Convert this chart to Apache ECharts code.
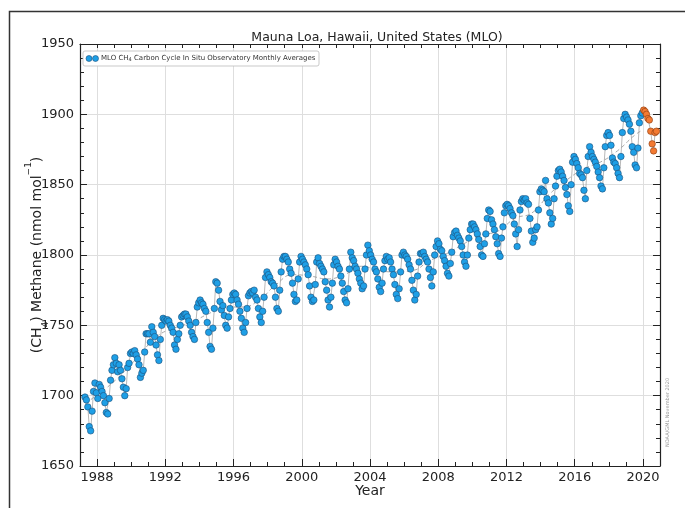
<!DOCTYPE html>
<html>
<head>
<meta charset="utf-8">
<script src="https://cdn.jsdelivr.net/npm/echarts@6/dist/echarts.min.js"></script>
<style>
html,body{margin:0;padding:0;background:#fff;}
#chart{width:685px;height:508px;}
</style>
</head>
<body>
<div id="chart"></div>
<script>
// ---- Data ----
const firstYear = 1987;
const firstMonth = 4; // April 1987
// MLO CH4 in situ monthly averages, Apr 1987 .. Dec 2019 (blue)
const blueValues = [
  1699,1697,1692,1678,1675,1689,1703,1709,1702,               // 1987 Apr-Dec
  1698,1708,1706,1703,1700,1695,1688,1687,1698,1711,1718,1722, // 1988
  1727,1723,1717,1722,1718,1712,1706,1700,1705,1720,1723,1730, // 1989
  1731,1730,1732,1729,1726,1722,1713,1716,1718,1731,1744,1744, // 1990
  1744,1738,1749,1745,1742,1736,1729,1725,1740,1750,1755,1754, // 1991
  1753,1754,1753,1750,1748,1745,1736,1733,1740,1744,1750,1756, // 1992
  1757,1758,1758,1756,1753,1750,1745,1742,1740,1752,1763,1766, // 1993
  1768,1766,1765,1762,1760,1752,1745,1735,1733,1748,1762,1781, // 1994
  1780,1775,1767,1761,1764,1757,1750,1748,1756,1762,1768,1772, // 1995
  1773,1772,1768,1765,1760,1755,1748,1745,1752,1762,1771,1773, // 1996
  1774,1773,1775,1770,1768,1762,1756,1752,1760,1770,1784,1788, // 1997
  1786,1784,1781,1780,1778,1770,1762,1760,1775,1788,1797,1799, // 1998
  1799,1797,1795,1790,1787,1780,1772,1767,1768,1783,1795,1799, // 1999
  1797,1795,1793,1790,1786,1778,1770,1767,1768,1779,1795,1798, // 2000
  1794,1792,1790,1788,1781,1775,1768,1763,1770,1780,1793,1797, // 2001
  1795,1792,1790,1785,1780,1774,1768,1766,1776,1790,1802,1798, // 2002
  1796,1792,1790,1787,1783,1780,1776,1778,1790,1800,1807,1803, // 2003
  1800,1797,1795,1790,1788,1783,1777,1774,1780,1790,1796,1799, // 2004
  1797,1798,1795,1790,1786,1779,1772,1769,1776,1788,1800,1802, // 2005
  1800,1799,1797,1793,1790,1782,1775,1768,1772,1785,1795,1801, // 2006
  1801,1802,1799,1797,1795,1790,1784,1778,1788,1800,1806,1810, // 2007
  1808,1804,1803,1799,1796,1792,1787,1785,1794,1802,1813,1816, // 2008
  1817,1814,1812,1810,1806,1800,1795,1792,1800,1812,1818,1822, // 2009
  1822,1820,1818,1815,1811,1806,1800,1799,1808,1815,1826,1832, // 2010
  1831,1825,1822,1818,1813,1808,1801,1799,1812,1820,1830,1835, // 2011
  1836,1835,1833,1830,1828,1822,1815,1806,1818,1832,1838,1840, // 2012
  1839,1840,1837,1836,1826,1817,1809,1812,1818,1820,1832,1845, // 2013
  1847,1846,1845,1853,1840,1837,1830,1822,1826,1840,1849,1856, // 2014
  1860,1861,1859,1856,1853,1848,1843,1835,1831,1850,1866,1870, // 2015
  1868,1865,1862,1858,1857,1855,1846,1840,1860,1870,1877,1873, // 2016
  1870,1868,1866,1863,1859,1855,1849,1847,1862,1877,1885,1887, // 2017
  1885,1878,1869,1866,1865,1862,1858,1855,1870,1887,1897,1900, // 2018
  1898,1896,1893,1888,1877,1873,1864,1862,1876,1894,1899,1901  // 2019
];
// Preliminary 2020 monthly values (orange), Jan .. Oct 2020
const orangeStartYear = 2020;
const orangeValues = [1903,1902,1900,1897,1896,1888,1879,1874,1887,1888];
// Smoothed trend (grey dashed)
const trendYears  = [1987.3,1987.5,1988.5,1989.5,1990.5,1991.5,1992.5,1993.5,1994.5,1995.5,1996.5,1997.5,1998.5,1999.5,2000.5,2001.5,2002.5,2003.5,2004.5,2005.5,2006.5,2007.5,2008.5,2009.5,2010.5,2011.5,2012.5,2013.5,2014.5,2015.5,2016.5,2017.5,2018.5,2019.5,2020.0];
const trendValues = [1694,1696,1705,1716,1729,1742,1748,1752,1758,1763,1763,1768,1779,1786,1785,1783,1786,1792,1789,1788,1789,1796,1801,1808,1814,1817,1826,1830,1843,1853,1861,1866,1874,1885,1889];
// Axis ticks
const xTickYears = [1988,1992,1996,2000,2004,2008,2012,2016,2020];
const xMinorYears = [];
for (let y = 1987; y <= 2021; y++) xMinorYears.push(y);

// ---- Build series data ----
const blueData = blueValues.map((v, i) => {
  const m = firstMonth - 1 + i;
  const t = firstYear + Math.floor(m / 12) + ((m % 12) + 0.5) / 12;
  return [t, v];
});
const orangeData = orangeValues.map((v, i) => [orangeStartYear + (i + 0.5) / 12, v]);
const trendData = trendYears.map((t, i) => [t, trendValues[i]]);

const chart = echarts.init(document.getElementById('chart'), null, {renderer: 'canvas'});
const FONT = 'DejaVu Sans';
const gridColor = '#dedede';
const axisColor = '#222';
const plain = v => String(Math.round(v));

const option = {
  animation: false,
  backgroundColor: '#fff',
  textStyle: {fontFamily: FONT},
  title: {
    text: 'Mauna Loa, Hawaii, United States (MLO)',
    left: 372, top: 26, textAlign: 'center',
    textStyle: {fontFamily: FONT, fontSize: 12.5, fontWeight: 'normal', color: '#222'}
  },
  grid: {left: 80, top: 44, width: 580, height: 422, containLabel: false, outerBoundsMode: 'none'},
  xAxis: [{
    type: 'value', min: 1987, max: 2021, position: 'bottom',
    name: 'Year', nameLocation: 'middle', nameGap: 18, nameMoveOverlap: false,
    nameTextStyle: {fontFamily: FONT, fontSize: 14, color: '#222', verticalAlign: 'top'},
    axisLine: {show: true, lineStyle: {color: axisColor, width: 1.2}},
    axisTick: {show: true, inside: true, length: 4, customValues: xMinorYears, lineStyle: {color: axisColor}},
    axisLabel: {customValues: xTickYears, fontSize: 13, color: '#222', margin: 5, fontFamily: FONT, formatter: plain},
    splitLine: {show: false}
  }, {
    type: 'value', min: 1987, max: 2021, position: 'top',
    axisLine: {show: true, lineStyle: {color: axisColor, width: 1.2}},
    axisTick: {show: true, inside: true, length: 4, customValues: xMinorYears, lineStyle: {color: axisColor}},
    axisLabel: {show: false},
    splitLine: {show: false}
  }, {
    type: 'value', min: 1987, max: 2021, position: 'bottom', show: true,
    axisLine: {show: false},
    axisTick: {show: true, inside: true, length: 7, customValues: xTickYears, lineStyle: {color: axisColor}},
    axisLabel: {show: false},
    splitLine: {show: false}
  }],
  yAxis: [{
    type: 'value', min: 1650, max: 1950, interval: 50, position: 'left',
    name: '(CH{s|4}) Methane (nmol mol{p|−1})', nameLocation: 'middle', nameGap: 36, nameRotate: 90,
    nameMoveOverlap: false,
    nameTextStyle: {fontFamily: FONT, fontSize: 14, color: '#222',
      rich: {s: {fontSize: 9, verticalAlign: 'bottom', fontFamily: FONT, color: '#222', padding: [0,0,-6,0]},
             p: {fontSize: 9, verticalAlign: 'top', fontFamily: FONT, color: '#222', padding: [-6,0,0,0]}}},
    axisLine: {show: true, lineStyle: {color: axisColor, width: 1.2}},
    axisTick: {show: true, inside: true, length: 7, lineStyle: {color: axisColor}},
    minorTick: {show: true, splitNumber: 5, length: 4, lineStyle: {color: axisColor}},
    axisLabel: {fontSize: 13, color: '#222', margin: 6, fontFamily: FONT, formatter: plain},
    splitLine: {show: true, lineStyle: {color: gridColor, width: 1}}
  }, {
    type: 'value', min: 1650, max: 1950, interval: 50, position: 'right',
    axisLine: {show: true, lineStyle: {color: axisColor, width: 1.2}},
    axisTick: {show: true, inside: true, length: 7, lineStyle: {color: axisColor}},
    minorTick: {show: true, splitNumber: 5, length: 4, lineStyle: {color: axisColor}},
    axisLabel: {show: false},
    splitLine: {show: false}
  }],
  series: [
    {
      name: 'trend', type: 'line', data: trendData, smooth: 0.5, showSymbol: false,
      lineStyle: {color: '#a8a8a8', width: 1, type: [4, 3]}, z: 2, silent: true,
      markLine: {
        silent: true, symbol: 'none', label: {show: false}, z: 0,
        lineStyle: {color: gridColor, type: 'solid', width: 1},
        emphasis: {disabled: true},
        data: xTickYears.map(y => ({xAxis: y}))
      }
    },
    {
      name: 'MLO', type: 'line', data: blueData, symbol: 'circle', symbolSize: 6.5,
      lineStyle: {color: '#9a9a9a', width: 0.7},
      itemStyle: {color: '#1e9fe6', borderColor: '#1c4f78', borderWidth: 0.6},
      z: 3, silent: true
    },
    {
      name: 'MLO prelim', type: 'line', data: orangeData, symbol: 'circle', symbolSize: 6.5,
      lineStyle: {color: '#9a9a9a', width: 0.7},
      itemStyle: {color: '#f37a32', borderColor: '#8a3c12', borderWidth: 0.6},
      z: 3, silent: true
    }
  ],
  graphic: [
    {type: 'rect', shape: {x: 9.5, y: 11.5, width: 700, height: 520}, style: {fill: 'none', stroke: '#333', lineWidth: 1.5}, silent: true},
    {type: 'rect', shape: {x: 83, y: 51, width: 236, height: 15, r: 2}, style: {fill: '#fff', stroke: '#bbb', lineWidth: 0.8}, z: 10},
    {type: 'circle', shape: {cx: 89, cy: 58.5, r: 3}, style: {fill: '#1e9fe6', stroke: '#1c4f78', lineWidth: 0.6}, z: 11},
    {type: 'circle', shape: {cx: 95.5, cy: 58.5, r: 3}, style: {fill: '#1e9fe6', stroke: '#1c4f78', lineWidth: 0.6}, z: 11},
    {type: 'text', x: 101, y: 58.5, z: 11, style: {
      text: 'MLO CH{s|4} Carbon Cycle In Situ Observatory Monthly Averages',
      fontFamily: FONT, fontSize: 7, fill: '#333', verticalAlign: 'middle',
      rich: {s: {fontSize: 5, fontFamily: FONT, fill: '#333', verticalAlign: 'bottom', padding: [3,0,0,0]}}
    }},
    {type: 'text', x: 668, y: 447, rotation: Math.PI / 2, z: 11, style: {
      text: 'NOAA/GML November 2020', fontFamily: FONT, fontSize: 5, fill: '#999', verticalAlign: 'middle'
    }}
  ]
};
chart.setOption(option);
</script>
</body>
</html>
